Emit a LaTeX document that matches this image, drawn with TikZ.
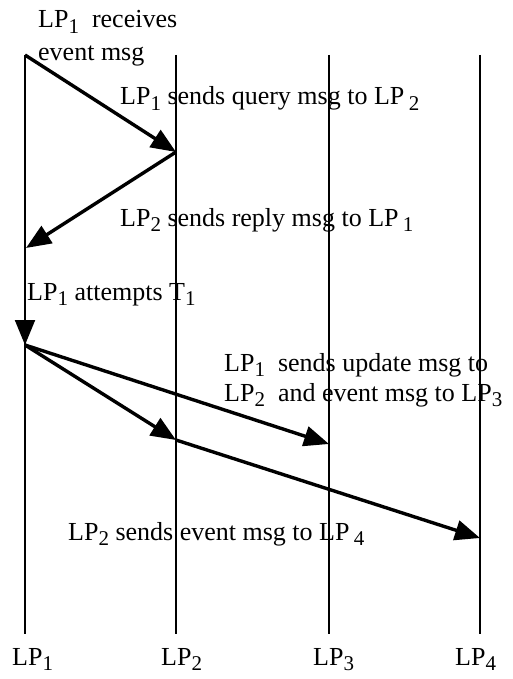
\documentclass[tikz,border=0pt]{standalone}
\usepackage{fontspec}
\setmainfont{Liberation Serif}
\usetikzlibrary{arrows.meta}
\newcommand{\lpsub}[1]{\raisebox{-0.42ex}{\fontsize{21}{21}\selectfont #1}}
\tikzset{
  lifeline/.style={line width=1.4pt},
  msg/.style={line width=3.4pt,-{Triangle[length=25pt,width=20pt]}},
  lbl/.style={anchor=base west,inner sep=0pt,font=\fontsize{26}{30}\selectfont},
}
\begin{document}
\begin{tikzpicture}[x=1pt,y=-1pt]
\useasboundingbox (0,0) rectangle (512,679);
% lifeline ends
\coordinate (t1) at (25,55);  \coordinate (u1) at (25,634);
\coordinate (t2) at (176,55); \coordinate (u2) at (176,634);
\coordinate (t3) at (329,55); \coordinate (u3) at (329,634);
\coordinate (t4) at (480,55); \coordinate (u4) at (480,634);
\draw[lifeline] (t1) -- (u1);
\draw[lifeline] (t2) -- (u2);
\draw[lifeline] (t3) -- (u3);
\draw[lifeline] (t4) -- (u4);
% events
\coordinate (b1) at (176,152);
\coordinate (a2) at (26,248);
\coordinate (a3) at (25,345);
\coordinate (b2) at (176,440);
\coordinate (c1) at (329,444);
\coordinate (d1) at (480,538);
\draw[msg] (t1) -- (b1);
\draw[msg] (b1) -- (a2);
\draw[msg,line width=2pt] (25,248) -- (a3);
\draw[msg] (a3) -- (c1);
\draw[msg] (a3) -- (b2);
\draw[msg] (b2) -- (d1);
% labels
\node[lbl] (l1) at (38,28) {LP\lpsub{1}\ \ receives};
\node[lbl] (l2) at (38,61) {event msg};
\node[lbl] (l3) at (120,105) {LP\lpsub{1} sends query msg to LP\,\lpsub{2}};
\node[lbl] (l4) at (120,226) {LP\lpsub{2} sends reply msg to LP\,\lpsub{1}};
\node[lbl] (l5) at (27,300) {LP\lpsub{1} attempts T\lpsub{1}};
\node[lbl] (l6) at (224,371) {LP\lpsub{1}\ \ sends update msg to};
\node[lbl] (l7) at (224,401) {LP\lpsub{2}\ \ and event msg to LP\lpsub{3}};
\node[lbl] (l8) at (68,540) {LP\lpsub{2} sends event msg to LP\,\lpsub{4}};
\node[lbl] (n1) at (12,665) {LP\lpsub{1}};
\node[lbl] (n2) at (161,665) {LP\lpsub{2}};
\node[lbl] (n3) at (313,665) {LP\lpsub{3}};
\node[lbl] (n4) at (455,665) {LP\lpsub{4}};
\end{tikzpicture}
\end{document}
